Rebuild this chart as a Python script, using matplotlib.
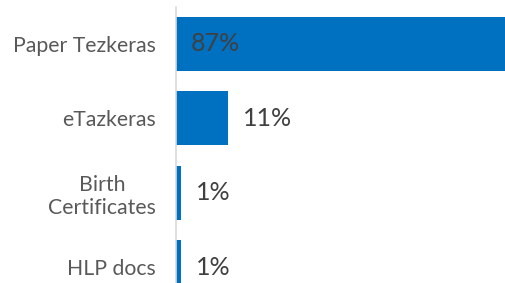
import matplotlib
matplotlib.use("Agg")
import matplotlib.pyplot as plt

categories = ["Paper Tezkeras", "eTazkeras", "Birth\nCertificates", "HLP docs"]
values = [87, 11, 1, 1]
labels = ["87%", "11%", "1%", "1%"]

plt.rcParams['font.family'] = ['Lato', 'DejaVu Sans']

fig = plt.figure(figsize=(5.05, 2.83), dpi=100)
ax = fig.add_axes([176/505, 0, 1 - 176/505, 276/283])

ypos = list(range(len(categories)))
ax.barh(ypos, values, height=0.725, color="#0070C0", left=0)
px_per_unit = 4.73
ax.set_xlim(0, (505 - 176) / px_per_unit)
ax.set_ylim(3.215, -0.497)

ax.set_yticks(ypos)
ax.set_yticklabels(categories, fontsize=15.3, color="#595959",
                   linespacing=1.22)
for t in ax.get_yticklabels():
    t.set_ha("right")
    t.set_multialignment("center")
ax.tick_params(axis="y", length=0, pad=14.5)
ax.set_xticks([])

for s in ["top", "right", "bottom"]:
    ax.spines[s].set_visible(False)
ax.spines["left"].set_color("#D9D9D9")
ax.spines["left"].set_linewidth(1.2)

for i, (v, lab) in enumerate(zip(values, labels)):
    if i == 0:
        x = 15 / px_per_unit
    else:
        x = v + 15 / px_per_unit
    ax.text(x, i, lab, va="center", ha="left", fontsize=18, color="#404040",
            clip_on=False)

fig.savefig("out.png", dpi=100)
